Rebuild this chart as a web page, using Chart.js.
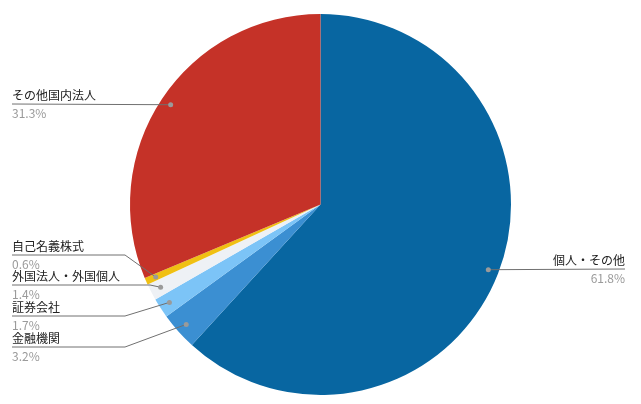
<!DOCTYPE html>
<html>
<head>
<meta charset="utf-8">
<script src="https://cdn.jsdelivr.net/npm/chart.js@4"></script>
<style>
  html, body { margin: 0; padding: 0; background: #fff; }
  #wrap { width: 641px; height: 404px; }
</style>
</head>
<body>
<div id="wrap"><canvas id="pieChart"></canvas></div>
<script>
// shareholder breakdown (%)
const categories = ['個人・その他', '金融機関', '証券会社', '外国法人・外国個人', '自己名義株式', 'その他国内法人'];
const shares = [61.8, 3.2, 1.7, 1.4, 0.6, 31.3];
const sliceColors = ['#0866a1', '#3b8fd2', '#7cc4f7', '#eef1f5', '#f0c013', '#c53228'];

// where each callout sits: side, y of the underline, x of the elbow
const callouts = [
    { side: 'right', y: 269, elbow: null },
    { side: 'left', y: 347, elbow: 125 },
    { side: 'left', y: 316, elbow: 125 },
    { side: 'left', y: 285, elbow: 150 },
    { side: 'left', y: 255, elbow: 125 },
    { side: 'left', y: 104, elbow: null }
];

const calloutPlugin = {
    id: 'callouts',
    afterDraw(chart) {
        const ctx = chart.ctx;
        const meta = chart.getDatasetMeta(0);
        ctx.save();
        meta.data.forEach((arc, i) => {
            const p = arc.getProps(['x', 'y', 'startAngle', 'endAngle', 'outerRadius'], true);
            const mid = (p.startAngle + p.endAngle) / 2;
            const r = p.outerRadius * 0.945;
            const dx = p.x + Math.cos(mid) * r;
            const dy = p.y + Math.sin(mid) * r;
            const c = callouts[i];
            const pct = shares[i].toFixed(1) + '%';

            ctx.strokeStyle = '#707070';
            ctx.lineWidth = 1;
            ctx.beginPath();
            ctx.moveTo(dx, dy);
            if (c.side === 'right') {
                ctx.lineTo(625, c.y);
            } else if (c.elbow !== null) {
                ctx.lineTo(c.elbow, c.y);
                ctx.lineTo(12, c.y);
            } else {
                ctx.lineTo(12, c.y);
            }
            ctx.stroke();

            ctx.fillStyle = '#9a9a9a';
            ctx.beginPath();
            ctx.arc(dx, dy, 2.5, 0, Math.PI * 2);
            ctx.fill();

            ctx.font = '12px "Noto Sans CJK JP", "Noto Sans", sans-serif';
            ctx.textAlign = c.side === 'right' ? 'right' : 'left';
            const tx = c.side === 'right' ? 625 : 12;
            ctx.textBaseline = 'alphabetic';
            ctx.fillStyle = '#222';
            ctx.fillText(categories[i], tx, c.y - 4);
            ctx.textBaseline = 'top';
            ctx.fillStyle = '#9a9a9a';
            ctx.fillText(pct, tx, c.y + 3);
        });
        ctx.restore();
    }
};

new Chart(document.getElementById('pieChart'), {
    type: 'pie',
    data: {
        labels: categories,
        datasets: [{
            data: shares,
            backgroundColor: sliceColors,
            borderWidth: 0
        }]
    },
    options: {
        responsive: true,
        maintainAspectRatio: false,
        animation: false,
        layout: { padding: { top: 14, bottom: 9 } },
        plugins: {
            legend: { display: false },
            tooltip: { enabled: false }
        }
    },
    plugins: [calloutPlugin]
});
</script>
</body>
</html>
